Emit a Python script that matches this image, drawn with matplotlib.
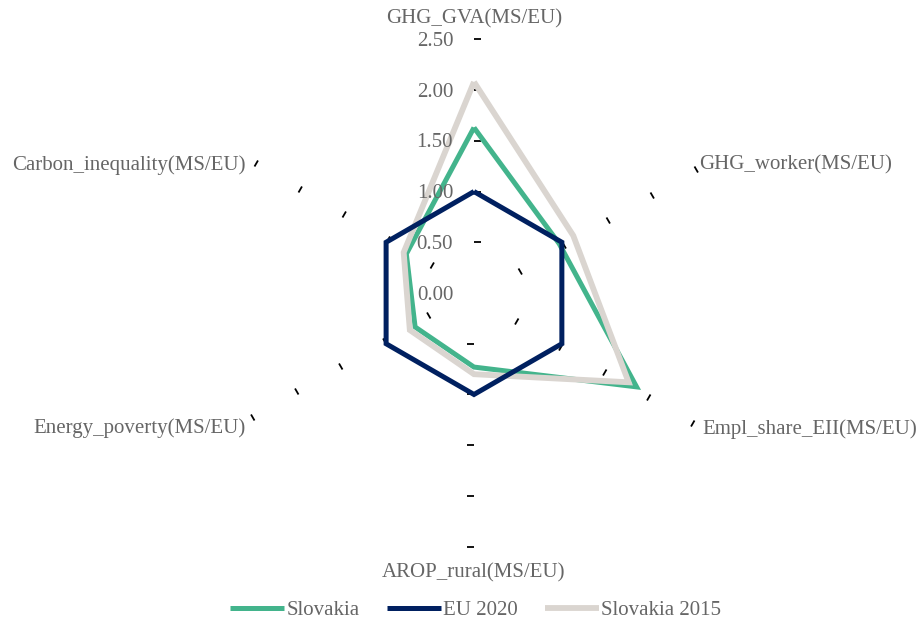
import numpy as np
import matplotlib
matplotlib.use("Agg")
import matplotlib.pyplot as plt
from matplotlib.markers import MarkerStyle
from matplotlib.path import Path
from matplotlib.transforms import Affine2D

# -----------------------------
# data
# -----------------------------
categories = ["GHG_GVA(MS/EU)", "GHG_worker(MS/EU)", "Empl_share_EII(MS/EU)",
              "AROP_rural(MS/EU)", "Energy_poverty(MS/EU)", "Carbon_inequality(MS/EU)"]
slovakia = [1.63, 0.97, 1.85, 0.73, 0.67, 0.77]
eu_2020 = [1.00, 1.00, 1.00, 1.00, 1.00, 1.00]
slovakia_2015 = [2.08, 1.13, 1.76, 0.80, 0.73, 0.80]
r_ticks = [0.0, 0.5, 1.0, 1.5, 2.0, 2.5]

# name, values, colour, width, zorder (navy drawn on top)
series = [("Slovakia", slovakia, "#43B48C", 3.6, 2),
          ("EU 2020", eu_2020, "#002060", 3.6, 4),
          ("Slovakia 2015", slovakia_2015, "#DAD5D0", 4.2, 3)]

text_col = "#666666"
plt.rcParams["font.family"] = ["Liberation Serif", "DejaVu Serif"]
plt.rcParams["font.size"] = 15

fig = plt.figure(figsize=(9.2, 6.25), dpi=100)
ax = fig.add_axes([0.2394, 0.1253, 0.5516, 0.8118], projection="polar")
ax.set_theta_offset(np.pi / 2)
ax.set_theta_direction(-1)

n = len(categories)
theta = np.arange(n) * 2 * np.pi / n

for name, vals, col, lw, z in series:
    ax.plot(np.append(theta, theta[0]), vals + vals[:1], color=col, lw=lw,
            label=name, zorder=z, solid_joinstyle="miter", solid_capstyle="butt")

ax.set_ylim(0, 2.5)
ax.set_xticks([])
ax.set_yticks([])
ax.grid(False)
ax.spines["polar"].set_visible(False)
ax.patch.set_alpha(0)

# small tick marks along every spoke, on the clockwise side
tick_path = Path([(0, 0), (1, 0)])
for i, t in enumerate(theta):
    ang = 90 - i * 360 / n
    m = MarkerStyle(tick_path, transform=Affine2D().rotate_deg(ang - 90))
    ax.plot([t] * (len(r_ticks) - 1), r_ticks[1:], ls="none", marker=m,
            markersize=10, markeredgecolor="black", markeredgewidth=1.3,
            zorder=1, clip_on=False)

# value labels on the first spoke
for r in r_ticks:
    ax.annotate(f"{r:.2f}", xy=(0, r), xytext=(-15, -1.5), textcoords="offset points",
                ha="right", va="center", color=text_col)

# category labels
offsets = [(0, 14.5, "center"), (4, 1, "left"), (6, -6.5, "left"),
           (0, -19, "center"), (-6, -6, "right"), (-6, 1, "right")]
for t, lab, (dx, dy, ha) in zip(theta, categories, offsets):
    ax.annotate(lab, xy=(t, 2.5), xytext=(dx, dy), textcoords="offset points",
                ha=ha, va="center", color=text_col)

leg = fig.legend(loc="lower center", bbox_to_anchor=(0.517, -0.022), ncol=3,
                 frameon=False, handlelength=2.6, handletextpad=0.1,
                 columnspacing=1.3)
for txt in leg.get_texts():
    txt.set_color(text_col)

fig.savefig("out.png", dpi=100)
